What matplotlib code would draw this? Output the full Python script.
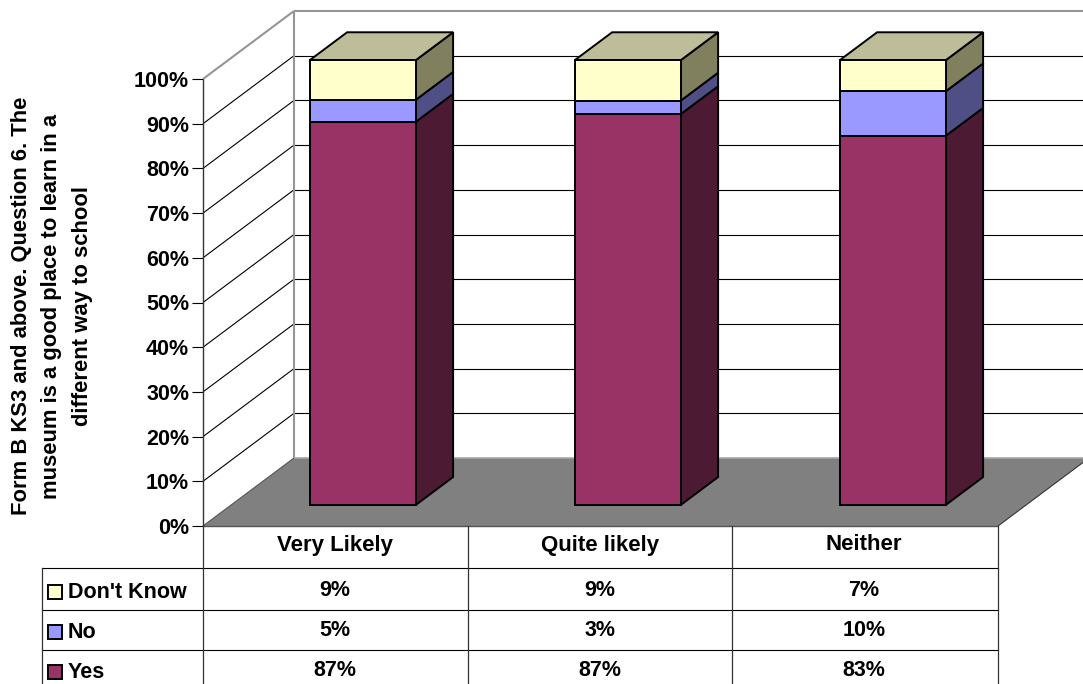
import matplotlib
matplotlib.use("Agg")
import matplotlib.pyplot as plt
import numpy as np
from matplotlib.lines import Line2D
from matplotlib.patches import Polygon, Rectangle
from matplotlib.transforms import Affine2D

plt.rcParams['font.family'] = ['Liberation Sans', 'DejaVu Sans']
plt.rcParams['font.weight'] = 'bold'

categories = ["Very Likely", "Quite likely", "Neither"]
yes = [87, 87, 83]
no = [5, 3, 10]
dont_know = [9, 9, 7]
y_ticks = [0, 10, 20, 30, 40, 50, 60, 70, 80, 90, 100]
y_title = "Form B KS3 and above. Question 6. The\nmuseum is a good place to learn in a\ndifferent way to school"

W, H = 1083, 684
# depth of the 3d box, in data units
DX, DY = 91 / 265.0, 68 / 4.47
BAR_W = 0.4
D0, D1 = 0.30, 0.71
BAR_SCALE = 0.995
FS = 15.5

fig = plt.figure(figsize=(W / 100, H / 100), dpi=100)
ax = fig.add_axes((203 / W, (H - 526) / H, 795 / W, 447 / H))
ax.set_xlim(0, 3)
ax.set_ylim(0, 100)
for s in ax.spines.values():
    s.set_visible(False)
ax.patch.set_visible(False)
ax.set_xticks([])
ax.set_yticks(y_ticks)
ax.set_yticklabels([str(v) + "%" for v in y_ticks], fontsize=FS, fontweight='bold')
ax.tick_params(axis='y', length=8, width=0.8, pad=2, color='black')

# pixels from the top left, used for the table
px = Affine2D().scale(1, -1).translate(0, H)


def poly(points, face, edge='black', lw=1.4, z=3):
    ax.add_patch(Polygon(points, closed=True, facecolor=face, edgecolor=edge,
                         linewidth=lw, zorder=z, clip_on=False, joinstyle='miter'))


def line(xs, ys, color='black', lw=0.8, z=1):
    ax.plot(xs, ys, color=color, linewidth=lw, zorder=z, clip_on=False,
            solid_capstyle='butt')


# floor
poly([(0, 0), (3, 0), (3 + DX, DY), (DX, DY)], '#808080', edge='none', lw=0, z=1)
line([DX, 3 + DX], [DY, DY], color='#a6a6a6', lw=1.2, z=2)
line([0, 3], [0, 0], color='#555555', lw=1.0, z=2)
line([3, 3 + DX], [0, DY], color='#333333', lw=0.8, z=2)
line([0, DX], [0, DY], color='#555555', lw=0.8, z=2)

# walls
for v in y_ticks[1:-1]:
    line([0, DX], [v, v + DY])
    line([DX, 3 + DX], [v + DY, v + DY])
line([0, 0], [0, 100], color='#333333', lw=1.0, z=2)
line([DX, DX], [DY, 100 + DY], color='#969696', lw=1.5)
line([0, DX], [100, 100 + DY], color='#969696', lw=1.5)
line([DX, 3 + DX], [100 + DY, 100 + DY], color='#969696', lw=1.5)

# stacked 3d bars, scaled to 100%
faces = ['#993366', '#9999FF', '#FFFFCC']
sides = ['#4D1A33', '#4F4F85', '#80805F']
top_face = '#BDBD9A'
series = np.array([yes, no, dont_know], dtype=float)
shares = series / series.sum(axis=0) * 100 * BAR_SCALE
for i in range(len(categories)):
    x0 = i + 0.5 + D0 * DX - BAR_W / 2
    x1 = x0 + BAR_W
    sx = (D1 - D0) * DX
    sy = (D1 - D0) * DY
    base = 0.31 * DY
    bottom = 0
    for k in range(len(series)):
        lo = base + bottom
        hi = base + bottom + shares[k, i]
        poly([(x1, lo), (x1 + sx, lo + sy), (x1 + sx, hi + sy), (x1, hi)], sides[k], z=3)
        poly([(x0, lo), (x1, lo), (x1, hi), (x0, hi)], faces[k], z=4)
        bottom += shares[k, i]
    hi = base + bottom
    poly([(x0, hi), (x1, hi), (x1 + sx, hi + sy), (x0 + sx, hi + sy)], top_face, z=3)

# table
table_rows = [("Don't Know", dont_know, faces[2]), ("No", no, faces[1]), ("Yes", yes, faces[0])]
row_lines = [568, 610, 650]
row_text = [590, 630, 670]
col_lines = [203, 468, 732, 998]
col_mid = [335, 600, 864]


def tline(xs, ys, color='black', lw=0.8):
    fig.add_artist(Line2D(xs, ys, transform=px, color=color, linewidth=lw))


for y in row_lines:
    tline([42, 998], [y, y])
for x in col_lines:
    tline([x, x], [526, H], color='#333333', lw=0.9)
tline([42, 42], [568, H], color='#333333', lw=0.9)

for name, x in zip(categories, col_mid):
    fig.text(x, 545, name, transform=px, ha='center', va='center', fontsize=16,
             fontweight='bold')
for (name, values, color), y in zip(table_rows, row_text):
    fig.text(68, y + 2, name, transform=px, ha='left', va='center', fontsize=FS,
             fontweight='bold')
    fig.add_artist(Rectangle((48, y + 9), 14, -14, transform=px, facecolor=color,
                             edgecolor='black', linewidth=1.4))
    for v, x in zip(values, col_mid):
        fig.text(x, y, str(v) + "%", transform=px, ha='center', va='center', fontsize=FS,
                 fontweight='bold')

fig.text(52, 306, y_title, transform=px, rotation=90, ha='center', va='center',
         multialignment='center', fontsize=15.8, fontweight='bold', linespacing=1.6)

fig.savefig("out.png", dpi=100)
